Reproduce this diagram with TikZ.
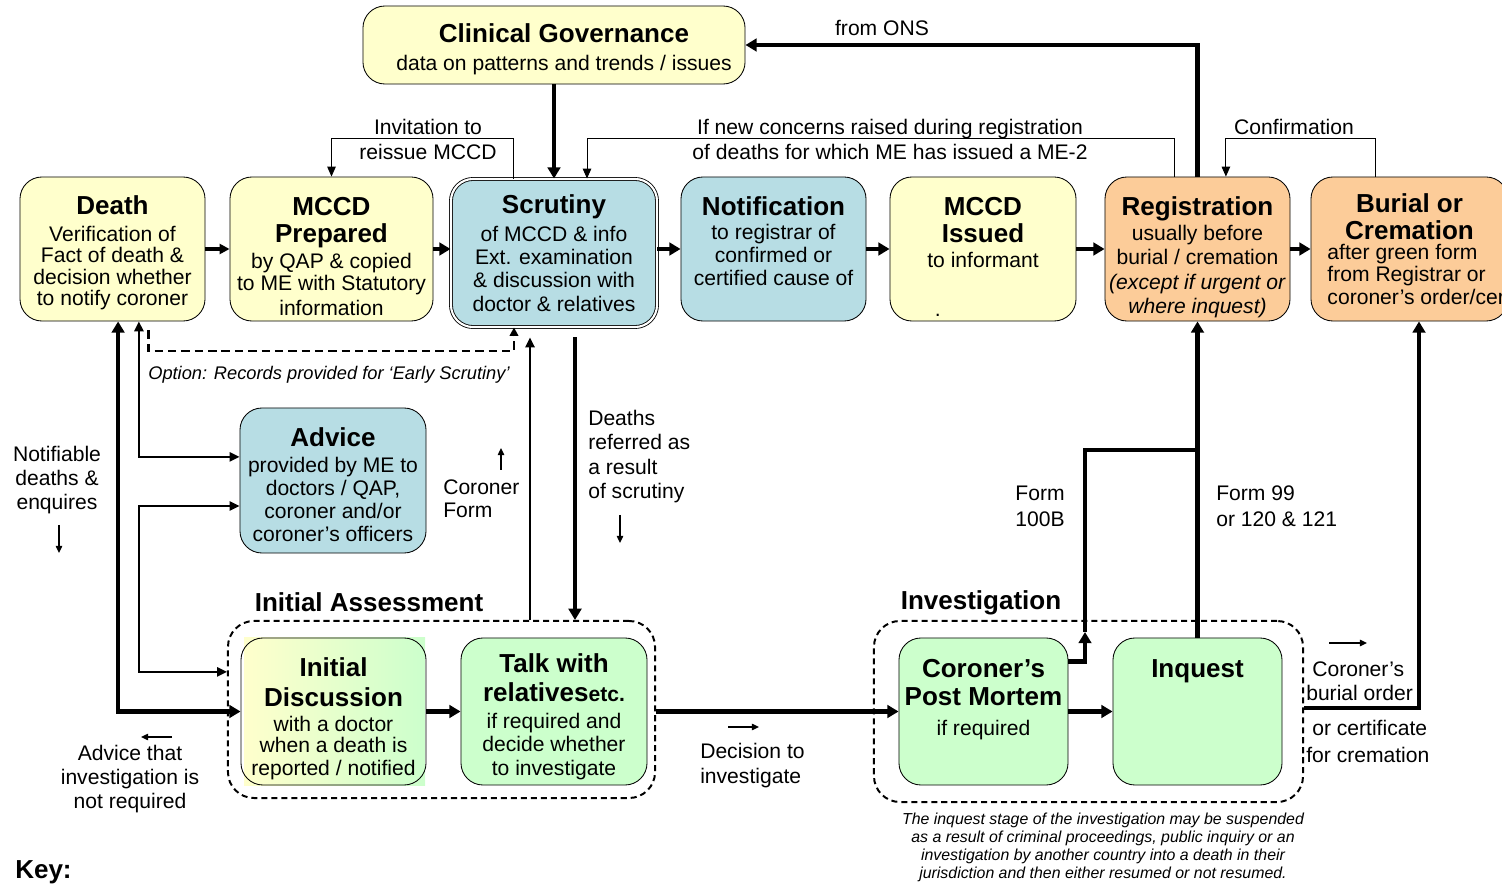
\documentclass[tikz,border=0pt]{standalone}
\usepackage{fontspec}
\setmainfont{Liberation Sans}
\usetikzlibrary{positioning,arrows.meta}

\definecolor{cyellow}{RGB}{255,255,204}
\definecolor{cblue}{RGB}{183,221,228}
\definecolor{corange}{RGB}{252,204,153}
\definecolor{cgreen}{RGB}{204,255,204}

\newcommand{\bodyf}{\fontsize{15}{15.3}\selectfont}
\newcommand{\ttl}[1]{{\fontsize{18.5}{19}\selectfont\bfseries #1}}

\tikzset{
  stage/.style={draw, line width=0.6pt, rounded corners=0.55cm, inner sep=0pt, align=center, font=\bodyf},
  ybox/.style={stage, fill=cyellow},
  bbox/.style={stage, fill=cblue},
  obox/.style={stage, fill=corange},
  gbox/.style={stage, fill=cgreen},
  phase/.style={draw, line width=1.4pt, dash pattern=on 4.3pt off 2.8pt, rounded corners=0.65cm, inner sep=0pt},
  heading/.style={font=\fontsize{18.5}{19}\selectfont\bfseries, inner sep=0pt},
  lbl/.style={font=\bodyf, inner sep=0pt, align=center},
  heavyline/.style={line width=3.4pt},
  heavy/.style={line width=3.4pt, -{Triangle[length=8pt,width=9pt]}},
  heavyboth/.style={line width=3.4pt, {Triangle[length=8pt,width=9pt]}-{Triangle[length=8pt,width=9pt]}},
  midarrow/.style={line width=2.2pt, -{Triangle[length=7pt,width=7pt]}},
  medium/.style={line width=1.5pt, -{Triangle[length=7pt,width=6.5pt]}},
  midboth/.style={line width=1.4pt, {Triangle[length=7pt,width=6.5pt]}-{Triangle[length=7pt,width=6.5pt]}},
  fine/.style={line width=0.7pt, -{Triangle[length=7pt,width=6pt]}},
  hint/.style={line width=1pt, -{Triangle[length=5pt,width=4.5pt]}},
  early/.style={line width=2pt, dash pattern=on 6pt off 3.5pt, -{Triangle[length=6pt,width=6pt]}}
}

\begin{document}
\begin{tikzpicture}[x=0.025cm, y=-0.025cm]
\useasboundingbox (0,0) rectangle (1502,885);

% Phase frames
\node[phase, minimum width=10.675cm, minimum height=4.425cm] (iabox) at (441.5,709.5) {};
\node[phase, minimum width=10.725cm, minimum height=4.525cm] (invbox) at (1088.5,711.5) {};
\node[heading] (ialbl) at (369,602) {Initial Assessment};
\node[heading] (invlbl) at (981,603) {Investigation};

% Top row
\node[ybox, minimum width=9.55cm, minimum height=1.95cm] (cg) at (554,45)
  {\mbox{}\\[3.9pt]\hspace*{0.5cm}\ttl{Clinical Governance}\\[4.3pt]\hspace*{0.5cm}data on patterns and trends / issues};
\node[ybox, minimum width=4.625cm, minimum height=3.6cm] (death) at (112.5,249)
  {\mbox{}\\[3.9pt]\ttl{Death}\\[3.6pt]Verification of\\Fact of death \&\\decision whether\\to notify coroner};
\node[ybox, minimum width=5.075cm, minimum height=3.6cm] (mccdp) at (331.5,249)
  {\mbox{}\\[8.2pt]\ttl{MCCD}\\[3.9pt]\ttl{Prepared}\\[2.9pt]by QAP \& copied\\[0.3pt]to ME with Statutory\\[2.5pt]information};
\node[bbox, double=white, double distance=1.5pt, minimum width=5.15cm, minimum height=3.7cm] (scrut) at (554,253)
  {\ttl{Scrutiny}\\[4.3pt]of MCCD \& info\\[1.3pt]Ext. examination\\[1.3pt]\& discussion with\\[1.3pt]doctor \& relatives};
\node[bbox, minimum width=4.625cm, minimum height=3.6cm] (notif) at (773.5,249)
  {\ttl{Notification}\\[2.2pt]to registrar of\\[1.1pt]confirmed or\\[1.1pt]certified cause of\\[-3.9pt]\mbox{}};
\node[ybox, minimum width=4.65cm, minimum height=3.6cm] (mccdi) at (983,249)
  {\mbox{}\\[8.2pt]\ttl{MCCD}\\[3.9pt]\ttl{Issued}\\[2.9pt]to informant\\[19.1pt]\makebox[2.4cm][l]{.}};
\node[obox, minimum width=4.625cm, minimum height=3.6cm] (regis) at (1197.5,249)
  {\mbox{}\\[9.6pt]\ttl{Registration}\\[2.9pt]usually before\\[2pt]burial / cremation\\[2pt]\textit{(except if urgent or}\\[2pt]\textit{where inquest)}};
\node[obox, minimum width=4.925cm, minimum height=3.6cm] (burial) at (1409.5,249)
  {\ttl{Burial or}\\[3.9pt]\ttl{Cremation}\\[-1.4pt]\makebox[4.1cm][l]{after green form}\\[0.7pt]\makebox[4.1cm][l]{from Registrar or}\\[0.7pt]\makebox[4.1cm][l]{coroner’s order/cer}};

% Advice
\node[bbox, minimum width=4.65cm, minimum height=3.625cm] (advice) at (333,480.5)
  {\mbox{}\\[3.9pt]\ttl{Advice}\\[2.9pt]provided by ME to\\[1.1pt]doctors / QAP,\\[1.1pt]coroner and/or\\[1.1pt]coroner’s officers};

% Bottom row
\shade[left color=cyellow, right color=cgreen] (244,638) rectangle (425,785);
\node[stage, minimum width=4.625cm, minimum height=3.675cm] (initd) at (333.5,711.5)
  {\mbox{}\\[8.2pt]\ttl{Initial}\\[6pt]\ttl{Discussion}\\[2.2pt]with a doctor\\[-0.4pt]when a death is\\[1.1pt]reported / notified};
\node[gbox, minimum width=4.65cm, minimum height=3.675cm] (talk) at (554,711.5)
  {\mbox{}\\[5.3pt]\ttl{Talk with}\\[5.3pt]\ttl{relatives}{\bfseries etc.}\\[3.6pt]if required and\\[1.1pt]decide whether\\[1.8pt]to investigate};
\node[gbox, minimum width=4.225cm, minimum height=3.675cm] (pm) at (983.5,711.5)
  {\ttl{Coroner’s}\\[4.6pt]\ttl{Post Mortem}\\[6pt]if required\\[4.3pt]\mbox{}};
\node[gbox, minimum width=4.225cm, minimum height=3.675cm] (inq) at (1197.5,711.5)
  {\ttl{Inquest}\\[45.9pt]\mbox{}};

% Labels
\node[lbl] (onslbl) at (882,28) {from ONS};
\node[lbl] (invlabel) at (428,139.5) {Invitation to\\[2.5pt]reissue MCCD};
\node[lbl] (newlbl) at (890,139.5) {If new concerns raised during registration\\[2.5pt]of deaths for which ME has issued a ME-2};
\node[lbl] (conflbl) at (1294,127) {Confirmation};
\node[lbl, anchor=west, font=\fontsize{13}{15}\selectfont\itshape] (optlbl) at (148,375) {Option: Records provided for ‘Early Scrutiny’};
\node[lbl] (notiflbl) at (57,480) {Notifiable\\[1.7pt]deaths \&\\[1.7pt]enquires};
\node[lbl, anchor=west, align=left] (cflbl) at (443,498.5) {Coroner\\[1.1pt]Form};
\node[lbl, anchor=west, align=left] (drlbl) at (588,456.5) {Deaths\\[2pt]referred as\\[2pt]a result\\[2pt]of scrutiny};
\node[lbl] (notreq) at (130,779) {Advice that\\[1.7pt]investigation is\\[1.7pt]not required};
\node[lbl, anchor=west, align=left] (declbl) at (700,765.5) {Decision to\\[2.5pt]investigate};
\node[lbl] (f100) at (1040,506) {Form\\[3.2pt]100B};
\node[lbl, anchor=west, align=left] (f99) at (1216,506) {Form 99\\[3.2pt]or 120 \& 121};
\node[lbl, anchor=west, align=left] (burord) at (1306,681) {\hspace*{0.15cm}Coroner’s\\[1.8pt]burial order};
\node[lbl, anchor=west, align=left] (crcert) at (1306,741.5) {\hspace*{0.15cm}or certificate\\[3.9pt]for cremation};
\node[lbl, font=\fontsize{11.3}{12.8}\selectfont\itshape] (note) at (1103,847.5)
  {The inquest stage of the investigation may be suspended\\as a result of criminal proceedings, public inquiry or an\\investigation by another country into a death in their\\jurisdiction and then either resumed or not resumed.};
\node[heading, anchor=west] (keylbl) at (15,872) {Key:};

% Direction hints next to labels
\coordinate (h1) at (59,525);
\coordinate (h2) at (172,737);
\coordinate (h3) at (501,470);
\coordinate (h4) at (620,515);
\coordinate (h5) at (728,727);
\coordinate (h6) at (1329,643);
\draw[hint] (h1) -- ++(0,28);
\draw[hint] (h2) -- ++(-31,0);
\draw[hint] (h3) -- ++(0,-22);
\draw[hint] (h4) -- ++(0,28);
\draw[hint] (h5) -- ++(31,0);
\draw[hint] (h6) -- ++(38,0);

% Top row connectors
\draw[midarrow] (death.east) -- (mccdp.west);
\draw[heavy] (mccdp.east) -- (mccdp.east -| scrut.west);
\draw[heavy] (notif.west -| scrut.east) -- (notif.west);
\draw[heavy] (notif.east) -- (mccdi.west);
\draw[heavy] (mccdi.east) -- (regis.west);
\draw[heavy] (regis.east) -- (burial.west);

% Governance loop
\draw[heavy] (cg.south) -- (scrut.north);
\draw[heavy] (regis.north) |- (cg.east);

% Thin feedback lines
\coordinate (invtop) at (513,138);
\coordinate (newtop) at (1174,138);
\coordinate (conftop) at (1375,138);
\draw[fine] (scrut.north -| invtop) -- (invtop) -| (mccdp.north);
\draw[fine] (regis.north -| newtop) -- (newtop) -| ([xshift=0.825cm]scrut.north);
\draw[fine] (burial.north -| conftop) -- (conftop) -| ([xshift=0.71cm]regis.north);

% Early scrutiny option
\coordinate (erly) at (514,351);
\draw[early] ([xshift=0.9cm,yshift=-0.225cm]death.south) |- (erly) -- (erly |- scrut.south);

% Left side links
\draw[heavyboth] ([xshift=0.14cm]death.south) |- (initd.west);
\draw[midboth] ([xshift=0.66cm]death.south) |- ([yshift=0.59cm]advice.west);
\coordinate (advlow) at (139,506);
\draw[midboth] (advice.west |- advlow) -- (advlow) |- ([yshift=0.94cm]iabox.west);

% Scrutiny and initial assessment
\coordinate (cfx) at (530,0);
\coordinate (drx) at (575,0);
\draw[medium, shorten >=0.25cm] (iabox.north -| cfx) -- (scrut.south -| cfx);
\draw[heavy, shorten <=0.25cm] (scrut.south -| drx) -- (iabox.north -| drx);

% Bottom row connectors
\draw[heavy] (initd.east) -- (talk.west);
\draw[heavy] (pm.west -| iabox.east) -- (pm.west);
\draw[heavy] (pm.east) -- (inq.west);

% Investigation results
\coordinate (pmtip) at (1085,632);
\coordinate (pmbend) at (1085,450);
\draw[heavy] ([yshift=1.24cm]pm.east) -| (pmtip);
\draw[heavyline] (pmtip) -- (pmbend) -- (pmbend -| regis.south);
\draw[heavy] (inq.north) -- (regis.south);
\coordinate (brx) at (1419,708);
\draw[heavy] (invbox.east |- brx) -- (brx) -- (burial.south -| brx);

\end{tikzpicture}
\end{document}
